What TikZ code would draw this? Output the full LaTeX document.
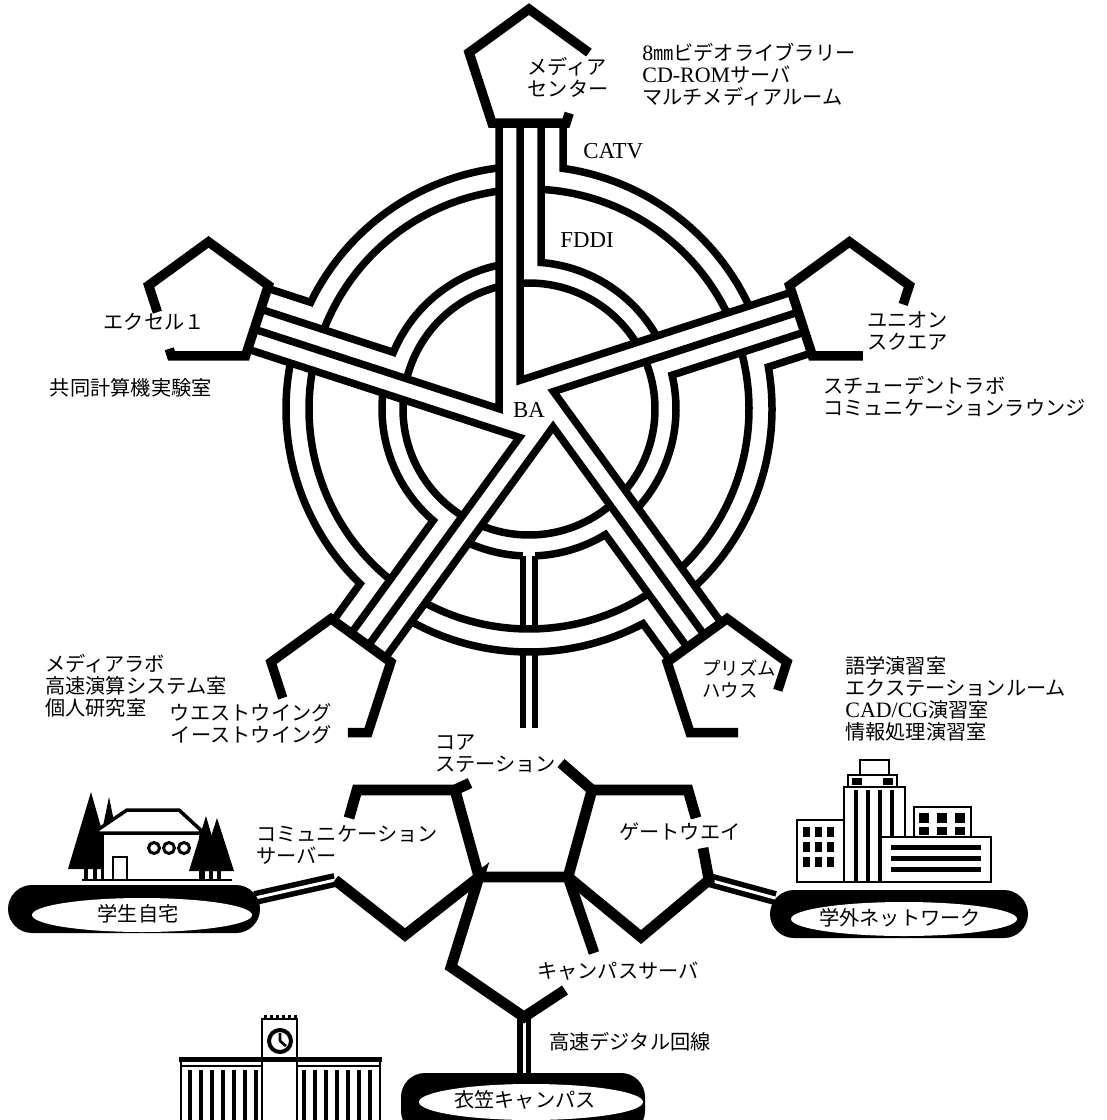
\documentclass[tikz,border=0pt]{standalone}
\usepackage{fontspec}
\setmainfont{Liberation Serif}
\newfontfamily\jp{Noto Sans CJK JP}
\usetikzlibrary{calc}

\newcommand\latn[1]{{\rmfamily\fontsize{12.5}{13}\selectfont #1}}

\tikzset{
  wall/.style={line width=1.5mm, line join=miter},
  penta/.style={line width=1.9mm, line join=miter},
  stub/.style={line width=1.35mm},
  link/.style={line width=2.15mm, line join=miter},
  twin/.style={line width=1.1mm, double distance=0.6mm, double=white},
  thin/.style={line width=0.55mm},
  jtxt/.style={font=\jp\fontsize{11.5}{12.5}\selectfont, inner sep=0pt, align=left},
  etxt/.style={font=\fontsize{13}{15}\selectfont, inner sep=0pt}
}

\begin{document}
\begin{tikzpicture}[x=0.2mm, y=0.2mm]
\useasboundingbox (0,-1120) rectangle (1107,0);

% ----------------------
% Backbone rings and spokes (centred on BA)
% ----------------------
\begin{scope}[shift={(529,-409)}]
  \foreach \ang/\nm in {90/t, 162/ul, 234/ll, 306/lr, 18/ur}{
    \begin{scope}[rotate=\ang]
      % corridor walls from BA out to the building
      \draw[wall] (286,30) -- (0.28,30) -- (79.82,274.78);
      % CATV ring, turning into the spoke
      \draw[wall] (286,-34) -- (240.61,-34)
        arc[start angle=-8.043, end angle=-64.908, radius=243];
      \draw[wall] (-3.127:220) arc[start angle=-3.127, end angle=-64.163, radius=220];
      % FDDI ring, turning into the spoke
      \draw[wall] (286,-12) -- (146.51,-12)
        arc[start angle=-4.683, end angle=-60.224, radius=147];
      \draw[wall] (4.096:126) arc[start angle=4.096, end angle=-58.226, radius=126];
      % building corners
      \coordinate (\nm-a) at (286,37);
      \coordinate (\nm-b) at (286,-37);
      \coordinate (\nm-c) at (356.4,-59.9);
      \coordinate (\nm-d) at (399.9,0);
      \coordinate (\nm-e) at (356.4,59.9);
    \end{scope}
  }
  % branch going down to the core station
  \fill[white] (-6,-141) rectangle (6,-153);
  \draw[stub] (-6,-147) -- (-6,-220) (6,-147) -- (6,-220);
  \draw[stub] (-6,-243) -- (-6,-319) (6,-243) -- (6,-319);
\end{scope}

% ----------------------
% Buildings (open pentagons)
% ----------------------
\draw[penta] ($(t-b)!0.14!(t-c)$) -- (t-b) -- (t-a) -- (t-e) -- (t-d) -- (t-c);
\draw[penta] ($(ul-e)!0.1!(ul-d)$) -- (ul-e) -- (ul-a) -- (ul-b) -- (ul-c) -- (ul-d)
  -- ($(ul-d)!0.38!(ul-e)$);
\draw[penta] ($(ur-d)!0.27!(ur-c)$) -- (ur-d) -- (ur-e) -- (ur-a) -- (ur-b)
  -- ($(ur-b)!0.68!(ur-c)$);
\draw[penta] ($(ll-c)!0.51!(ll-d)$) -- (ll-c) -- (ll-b) -- (ll-a) -- (ll-e)
  -- ($(ll-e)!0.27!(ll-d)$);
\draw[penta] ($(lr-e)!0.4!(lr-d)$) -- (lr-e) -- (lr-a) -- (lr-b) -- (lr-c)
  -- ($(lr-c)!0.65!(lr-d)$);

% building names
\node[jtxt] (media) at (568,-77.5) {メディア\\センター};
\node[jtxt, anchor=east] (excel) at (205,-322) {エクセル１};
\node[jtxt, anchor=west] (union) at (867,-331) {ユニオン\\スクエア};
\node[jtxt, anchor=west, font=\jp\fontsize{10.5}{12.5}\selectfont] (prism) at (702,-679) {プリズム\\ハウス};
\node[jtxt, anchor=east, align=right] (wing) at (332,-723.5) {ウエストウイング\\イーストウイング};

% facilities in each building
\node[jtxt, anchor=west] (mclist) at (642,-74.5)
  {\latn{8}㎜ビデオライブラリー\\\latn{CD-ROM}サーバ\\マルチメディアルーム};
\node[jtxt, anchor=east] (kyodo) at (212,-388) {共同計算機実験室};
\node[jtxt, anchor=west] (slab) at (823,-396.5)
  {スチューデントラボ\\コミュニケーションラウンジ};
\node[jtxt, anchor=west] (mlab) at (45,-686)
  {メディアラボ\\高速演算システム室\\個人研究室};
\node[jtxt, anchor=west] (plist) at (845,-699)
  {語学演習室\\エクステーションルーム\\\latn{CAD/CG}演習室\\情報処理演習室};

% network names
\node[etxt, anchor=west] (catv) at (583,-151) {CATV};
\node[etxt, anchor=west] (fddi) at (560,-240) {FDDI};
\node[etxt] (ba) at (529,-410) {BA};

% ----------------------
% Core station and outside links
% ----------------------
\coordinate (j1) at (479,-877);
\coordinate (j2) at (568,-877);
\coordinate (tl) at (455,-790);
\coordinate (tlb) at (470,-783);
\coordinate (lbc) at (357,-790);
\coordinate (lbe) at (349,-818);
\coordinate (tr) at (592,-790);
\coordinate (trb) at (561,-763);
\coordinate (rbc) at (688,-790);
\coordinate (rbe) at (696,-818);
\coordinate (lv) at (405,-935);
\coordinate (lvt) at (335,-880);
\coordinate (yl) at (451,-967);
\coordinate (yb) at (524,-1017);
\coordinate (yr) at (565,-990);
\coordinate (jd) at (594,-953);
\coordinate (rv) at (641,-937);
\coordinate (rvt) at (709,-880);
\coordinate (rvs) at (703,-848);
\coordinate (home-in) at (255,-898);
\coordinate (ext-in) at (775,-898);
\coordinate (kinu-in) at (524,-1078);

\draw[twin] (lvt) -- (home-in);
\draw[twin] (rvt) -- (ext-in);
\draw[twin] (yb) -- (kinu-in);

% pill shaped sites
\fill[rounded corners=4.8mm] (8,-885) rectangle (260,-933);
\fill[white] (142,-915) ellipse[x radius=110, y radius=17];
\node[jtxt] (home) at (138,-914) {学生自宅};

\fill[rounded corners=4.8mm] (770,-890) rectangle (1028,-938);
\fill[white] (904,-919) ellipse[x radius=113, y radius=17];
\node[jtxt] (ext) at (900,-918) {学外ネットワーク};

\fill[rounded corners=4.8mm] (401,-1073) rectangle (645,-1135);
\fill[white] (531,-1102) ellipse[x radius=112, y radius=18];
\node[jtxt] (kinu) at (525,-1100) {衣笠キャンパス};

\draw[link] (lbe) -- (lbc) -- (tl) -- (j1) -- (j2) -- (tr) -- (rbc) -- (rbe);
\draw[link] (tlb) -- (tl);
\draw[link] (trb) -- (tr);
\draw[link] (lvt) -- (lv) -- (j1) -- (yl) -- (yb) -- (yr);
\draw[link] (j2) -- (jd);
\draw[link] (j2) -- (rv) -- (rvt) -- (rvs);

\node[jtxt, anchor=west] (core) at (435,-754) {コア\\ステーション};
\node[jtxt, anchor=west] (comsv) at (256,-844.5) {コミュニケーション\\サーバー};
\node[jtxt, anchor=west] (gw) at (619,-832) {ゲートウエイ};
\node[jtxt, anchor=west] (csv) at (537,-971) {キャンパスサーバ};
\node[jtxt, anchor=west] (hsl) at (549,-1042) {高速デジタル回線};

% ----------------------
% Little pictures: house, office blocks, clock tower
% ----------------------
% house among trees
\fill (68,-869) -- (91,-792) -- (113,-869) -- cycle;
\fill (96,-860) -- (109,-797) -- (122,-860) -- cycle;
\foreach \x in {84,93,101} \fill (\x,-866) rectangle ++(4,-14);
\draw[thin, fill=white] (103,-833) rectangle (200,-880);
\draw[line width=0.7mm, fill=white] (93,-833) -- (127,-810) -- (179,-810) -- (204,-833) -- cycle;
\draw[thin] (113,-880) -- (113,-857) -- (127,-857) -- (127,-880);
\foreach \x in {154,169,184} \draw[line width=0.6mm] (\x,-848) circle[radius=5.5];
\draw[thin] (82,-880) -- (232,-880);
\fill (189,-871) -- (206,-816) -- (222,-871) -- cycle;
\fill (200,-871) -- (217,-818) -- (234,-871) -- cycle;
\foreach \x in {201,209,217} \fill (\x,-868) rectangle ++(4,-12);

% office blocks
\draw[thin, fill=white] (914,-807) rectangle (971,-837);
\foreach \x in {919,937,955} {
  \fill (\x,-813) rectangle ++(10,-10);
  \fill (\x,-827) rectangle ++(10,-8);
}
\draw[thin, fill=white] (844,-882) rectangle (905,-787);
\foreach \x in {856,868,880,892} \draw[line width=0.8mm] (\x,-790) -- (\x,-882);
\draw[thin, fill=white] (848,-787) rectangle (897,-775);
\fill (852,-778) rectangle (862,-785);
\fill (883,-778) rectangle (893,-785);
\draw[thin, fill=white] (860,-775) rectangle (889,-760);
\draw[thin, fill=white] (797,-882) rectangle (844,-820);
\foreach \x in {803,815,827}
  \foreach \y in {827,842,857}
    \fill (\x,-\y) rectangle ++(7,-10);
\draw[thin, fill=white] (881,-882) rectangle (991,-837);
\foreach \y in {845,856,867} \fill (891,-\y) rectangle (981,-\y-5);

% clock tower
\draw[thin, fill=white] (262,-1058) rectangle (297,-1019);
\foreach \x in {264,270,...,294} \fill (\x,-1015) rectangle ++(3,-5);
\draw[line width=0.8mm] (280,-1041) circle[radius=11];
\draw[thin] (280,-1041) -- (280,-1033) (280,-1041) -- (286,-1046);
\draw[thin] (181,-1125) -- (181,-1058) -- (380,-1058) -- (380,-1125);
\draw[line width=1mm] (179,-1059) -- (382,-1059);
\draw[thin] (181,-1066) -- (262,-1066) (297,-1066) -- (380,-1066);
\draw[thin] (262,-1058) -- (262,-1125) (297,-1058) -- (297,-1125);
\foreach \x in {190,201,212,223,234,245,256}
  \draw[line width=0.8mm] (\x,-1070) -- (\x,-1125);
\foreach \x in {304,315,326,337,348,359,370}
  \draw[line width=0.8mm] (\x,-1070) -- (\x,-1125);

\end{tikzpicture}
\end{document}
